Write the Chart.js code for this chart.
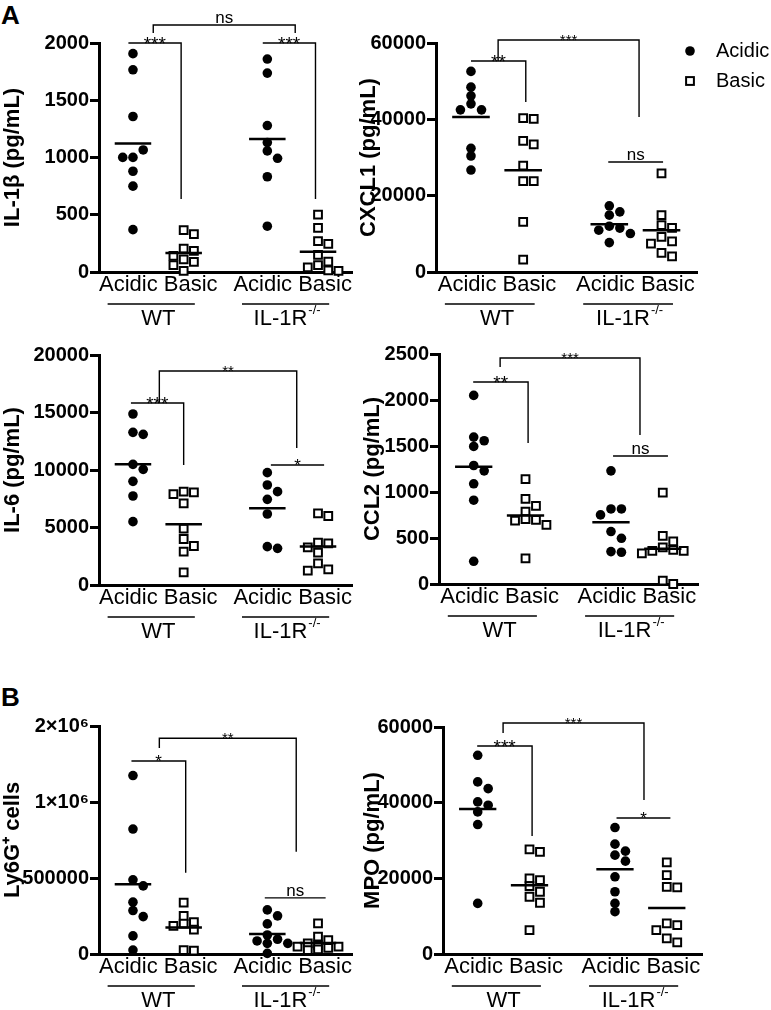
<!DOCTYPE html>
<html>
<head>
<meta charset="utf-8">
<script src="https://cdn.jsdelivr.net/npm/chart.js@4.4.1/dist/chart.umd.min.js"></script>
<style>
  body { margin: 0; background: #fff; width: 771px; height: 1010px; position: relative; overflow: hidden;
         font-family: "Liberation Sans", Arial, sans-serif; }
  canvas { position: absolute; }
  .tag { position: absolute; font-weight: bold; font-size: 26px; line-height: 26px; }
</style>
</head>
<body>
<div class="tag" style="left:1px;top:2px">A</div>
<div class="tag" style="left:1px;top:684px">B</div>
<canvas id="il1b" width="360" height="335" style="left:0;top:0"></canvas>
<canvas id="cxcl1" width="415" height="335" style="left:356px;top:0"></canvas>
<canvas id="il6" width="360" height="310" style="left:0;top:335px"></canvas>
<canvas id="ccl2" width="411" height="310" style="left:360px;top:335px"></canvas>
<canvas id="ly6g" width="360" height="365" style="left:0;top:645px"></canvas>
<canvas id="mpo" width="411" height="365" style="left:360px;top:645px"></canvas>
<script>
const FONT = '"Liberation Sans", Arial, sans-serif';

// groups: acidic / basic lavage, WT and IL-1R knockout mice
const categories = ['Acidic', 'Basic'];
const strains = ['WT', 'IL-1R'];
const knockoutMark = '-/-';
const groupX = [1, 2, 3.65, 4.65];
const pairX = [1.5, 4.15];

// IL-1b (pg/mL)
const il1bTicks = [0, 500, 1000, 1500, 2000];
const il1bWtAcidic = [1907, 1766, 1358, 1001, 1066, 1001, 880, 750, 370];
const il1bWtBasic = [365, 330, 204, 184, 140, 110, 88, 60, 10];
const il1bKoAcidic = [1860, 1737, 1279, 1130, 1057, 993, 832, 400];
const il1bKoBasic = [502, 385, 270, 245, 150, 90, 60, 40, 15, 10];

// CXCL1 (pg/mL)
const cxcl1Ticks = [0, 20000, 40000, 60000];
const cxcl1WtAcidic = [52555, 48438, 46160, 44058, 42482, 42482, 32408, 30394, 26715];
const cxcl1WtBasic = [40292, 40117, 34336, 33460, 27854, 23825, 23825, 13139, 3241];
const cxcl1KoAcidic = [17343, 15766, 14891, 12000, 11500, 10949, 10073, 7708];
const cxcl1KoBasic = [25839, 14891, 12263, 11562, 9197, 8000, 7445, 4993, 4117];

// IL-6 (pg/mL)
const il6Ticks = [0, 5000, 10000, 15000, 20000];
const il6WtAcidic = [14870, 13275, 13101, 10493, 10058, 9014, 7739, 5507];
const il6WtBasic = [8116, 8058, 7900, 7101, 4899, 4000, 3391, 2899, 1101];
const il6KoAcidic = [9768, 8696, 8116, 7449, 6174, 3333, 3188];
const il6KoBasic = [6232, 6000, 3681, 3623, 3275, 2812, 1884, 1362, 1246];

// CCL2 (pg/mL)
const ccl2Ticks = [0, 500, 1000, 1500, 2000, 2500];
const ccl2WtAcidic = [2050, 1597, 1557, 1495, 1288, 1230, 1089, 911, 247];
const ccl2WtBasic = [1139, 925, 849, 787, 704, 697, 689, 642, 279];
const ccl2KoAcidic = [1230, 816, 816, 751, 570, 497, 352, 345];
const ccl2KoBasic = [994, 522, 464, 399, 370, 359, 359, 334, 36, 0];

// Ly6G+ cells (axis compressed above 1x10^6)
const ly6gTicks = [0, 500000, 1000000, 2000000];
const ly6gWtAcidic = [1348000, 822000, 488000, 448000, 341000, 286000, 246000, 119000, 26000];
const ly6gWtBasic = [338000, 250000, 210000, 200000, 185000, 160000, 25000, 22000];
const ly6gKoAcidic = [290000, 251000, 198000, 125000, 97000, 86000, 70000, 70000, 4000];
const ly6gKoBasic = [202000, 114000, 92000, 70000, 59000, 48000, 48000, 40000, 31000, 26000];

// MPO (pg/mL)
const mpoTicks = [0, 20000, 40000, 60000];
const mpoWtAcidic = [52522, 45484, 43724, 40205, 39326, 37566, 34223, 13372];
const mpoWtBasic = [27625, 27009, 19971, 19531, 17947, 16452, 15132, 13548, 6334];
const mpoKoAcidic = [33431, 29032, 27185, 26129, 24545, 20411, 16452, 13372, 11173];
const mpoKoBasic = [24194, 20850, 17771, 17595, 8094, 7654, 6334, 4135, 3079];

const AXIS_BREAK = 1000000;
function foldValue(v) {
  return v <= AXIS_BREAK ? v : AXIS_BREAK + (v - AXIS_BREAK) / 2;
}

class SegmentedScale extends Chart.LinearScale {
  static id = 'segmented';
  static defaults = {};
  getPixelForValue(v) {
    return this.getPixelForDecimal(foldValue(v) / foldValue(this.max));
  }
  getValueForPixel(p) {
    const u = this.getDecimalForPixel(p) * foldValue(this.max);
    return u <= AXIS_BREAK ? u : AXIS_BREAK + (u - AXIS_BREAK) * 2;
  }
}
Chart.register(SegmentedScale);

// spread points sideways when they would overlap (at most two slots each side)
const SLOT_PX = 10.5, MIN_GAP = 7.5, X_PX = 52;
function swarm(values, center, toPx) {
  const placed = [];
  return values.map(v => {
    const py = toPx(v);
    let best = 0, bestGap = -1;
    for (let k = 0; k < 5; k++) {
      const slot = k === 0 ? 0 : (k % 2 ? (k + 1) / 2 : -k / 2);
      const px = slot * SLOT_PX;
      const gap = placed.reduce((g, p) => Math.min(g, Math.hypot(p.px - px, p.py - py)), Infinity);
      if (gap >= MIN_GAP) { best = px; break; }
      if (gap > bestGap + 2) { bestGap = gap; best = px; }
    }
    placed.push({ px: best, py });
    return { x: center + best / X_PX, y: v };
  });
}

const marks = {
  id: 'marks',
  afterDatasetsDraw(chart, args, opts) {
    const { ctx, chartArea, scales: { x, y } } = chart;
    ctx.save();
    ctx.strokeStyle = '#000';
    ctx.fillStyle = '#000';

    // group means
    ctx.lineWidth = 2.5;
    chart.data.datasets.forEach(ds => {
      const m = ds.data.reduce((s, p) => s + p.y, 0) / ds.data.length;
      const py = y.getPixelForValue(m);
      ctx.beginPath();
      ctx.moveTo(x.getPixelForValue(ds.center - 0.36), py);
      ctx.lineTo(x.getPixelForValue(ds.center + 0.36), py);
      ctx.stroke();
    });

    // significance brackets
    ctx.lineWidth = 1.4;
    ctx.textAlign = 'center';
    ctx.textBaseline = 'alphabetic';
    opts.brackets.forEach(b => {
      const x1 = x.getPixelForValue(b.x1), x2 = x.getPixelForValue(b.x2);
      const yy = y.getPixelForValue(b.y);
      ctx.beginPath();
      ctx.moveTo(x1, b.y1 == null ? yy : y.getPixelForValue(b.y1));
      ctx.lineTo(x1, yy);
      ctx.lineTo(x2, yy);
      ctx.lineTo(x2, b.y2 == null ? yy : y.getPixelForValue(b.y2));
      ctx.stroke();
      ctx.font = b.size + 'px ' + FONT;
      const ty = b.text === 'ns' ? yy - 2 : yy + b.size * 0.35;
      ctx.fillText(b.text, (x1 + x2) / 2, ty);
    });

    // strain underline + name
    const base = chartArea.bottom;
    ctx.lineWidth = 1.5;
    pairX.forEach((cx, i) => {
      ctx.beginPath();
      ctx.moveTo(x.getPixelForValue(cx - 1.0), base + 32);
      ctx.lineTo(x.getPixelForValue(cx + 0.72), base + 32);
      ctx.stroke();
      const mid = x.getPixelForValue(cx - (i ? 0.12 : 0));
      ctx.textBaseline = 'middle';
      ctx.textAlign = 'left';
      ctx.font = '22px ' + FONT;
      const w = ctx.measureText(strains[i]).width;
      let sw = 0;
      if (i) {
        ctx.font = '13px ' + FONT;
        sw = ctx.measureText(knockoutMark).width;
      }
      const start = mid - (w + sw) / 2;
      ctx.font = '22px ' + FONT;
      ctx.fillText(strains[i], start, base + 47);
      if (i) {
        ctx.font = '13px ' + FONT;
        ctx.fillText(knockoutMark, start + w + 1, base + 38);
      }
    });

    if (opts.legend) {
      const lx = 334;
      ctx.beginPath();
      ctx.arc(lx, 51, 4.8, 0, Math.PI * 2);
      ctx.fill();
      ctx.lineWidth = 2;
      ctx.fillStyle = '#fff';
      ctx.fillRect(lx - 3.9, 81 - 3.9, 7.8, 7.8);
      ctx.strokeRect(lx - 3.9, 81 - 3.9, 7.8, 7.8);
      ctx.fillStyle = '#000';
      ctx.font = '20px ' + FONT;
      ctx.textAlign = 'left';
      ctx.textBaseline = 'middle';
      ctx.fillText(categories[0], 360, 51);
      ctx.fillText(categories[1], 360, 81);
    }
    ctx.restore();
  }
};

function tickText(v) {
  if (v >= AXIS_BREAK && v % AXIS_BREAK === 0) return (v / AXIS_BREAK) + '×10⁶';
  return String(v);
}

function makePanel(p) {
  const canvas = document.getElementById(p.id);
  const W = canvas.width, H = canvas.height;
  const plotH = p.area.bottom - p.area.top;
  const yMax = p.ticks[p.ticks.length - 1];
  const fold = p.segmented ? foldValue : v => v;
  const toPx = v => fold(v) / fold(yMax) * plotH;

  const datasets = p.series.map((vals, i) => {
    const acidic = i % 2 === 0;
    return {
      label: categories[i % 2],
      center: groupX[i],
      data: swarm(vals, groupX[i], toPx),
      pointStyle: acidic ? 'circle' : 'rect',
      pointRadius: acidic ? 4.8 : 5.5,
      pointBackgroundColor: acidic ? '#000' : '#fff',
      pointBorderColor: '#000',
      pointBorderWidth: acidic ? 0 : 2,
      clip: false
    };
  });

  return new Chart(canvas, {
    type: 'scatter',
    data: { datasets },
    options: {
      responsive: false,
      animation: false,
      events: [],
      layout: { padding: { top: p.area.top, right: W - p.area.right, bottom: 0, left: 0 } },
      plugins: {
        legend: { display: false },
        tooltip: { enabled: false },
        marks: { brackets: p.brackets, legend: !!p.legend }
      },
      scales: {
        x: {
          type: 'linear',
          min: 0.33,
          max: 5.33,
          afterBuildTicks: s => { s.ticks = pairX.map(v => ({ value: v })); },
          afterFit: s => { s.height = H - p.area.bottom; s.paddingLeft = 0; s.paddingRight = 0; },
          ticks: {
            autoSkip: false,
            maxRotation: 0,
            padding: 0,
            color: '#000',
            font: { family: FONT, size: 22 },
            callback: () => categories.join(' ')
          },
          grid: { display: false, drawTicks: false },
          border: { color: '#000', width: 3 }
        },
        y: {
          type: p.segmented ? 'segmented' : 'linear',
          min: 0,
          max: yMax,
          afterBuildTicks: s => { s.ticks = p.ticks.map(v => ({ value: v })); },
          afterFit: s => { s.width = p.area.left; s.paddingTop = 0; s.paddingBottom = 0; },
          ticks: {
            padding: 1,
            color: '#000',
            font: { family: FONT, size: 20, weight: 'bold' },
            callback: v => tickText(v)
          },
          grid: { drawOnChartArea: false, tickLength: 9, tickWidth: 3, tickColor: '#000', color: '#000' },
          border: { color: '#000', width: 3 },
          title: {
            display: true,
            text: p.title,
            color: '#000',
            padding: 0,
            font: { family: FONT, size: 22, weight: 'bold' }
          }
        }
      }
    },
    plugins: [marks]
  });
}

const panels = [
  {
    id: 'il1b', title: 'IL-1β (pg/mL)', ticks: il1bTicks,
    series: [il1bWtAcidic, il1bWtBasic, il1bKoAcidic, il1bKoBasic],
    area: { left: 99, top: 43, right: 360, bottom: 272 },
    brackets: [
      { x1: 0.91, x2: 1.95, y: 2000, y2: 637, text: '***', size: 19 },
      { x1: 3.56, x2: 4.6, y: 2000, y2: 637, text: '***', size: 19 },
      { x1: 1.4, x2: 4.2, y: 2157, y1: 2087, y2: 2087, text: 'ns', size: 17 }
    ]
  },
  {
    id: 'cxcl1', title: 'CXCL1 (pg/mL)', ticks: cxcl1Ticks, legend: true,
    series: [cxcl1WtAcidic, cxcl1WtBasic, cxcl1KoAcidic, cxcl1KoBasic],
    area: { left: 80, top: 43, right: 341, bottom: 272 },
    brackets: [
      { x1: 1.0, x2: 2.05, y: 55284, y2: 44541, text: '**', size: 19 },
      { x1: 1.52, x2: 4.22, y: 60786, y1: 55284, y2: 40611, text: '***', size: 15 },
      { x1: 3.63, x2: 4.68, y: 28821, text: 'ns', size: 17 }
    ]
  },
  {
    id: 'il6', title: 'IL-6 (pg/mL)', ticks: il6Ticks,
    series: [il6WtAcidic, il6WtBasic, il6KoAcidic, il6KoBasic],
    area: { left: 99, top: 20, right: 359, bottom: 250 },
    brackets: [
      { x1: 0.96, x2: 2.0, y: 15826, y2: 10435, text: '***', size: 19 },
      { x1: 1.52, x2: 4.23, y: 18609, y1: 15826, y2: 11913, text: '**', size: 15 },
      { x1: 3.72, x2: 4.77, y: 10435, text: '*', size: 17 }
    ]
  },
  {
    id: 'ccl2', title: 'CCL2 (pg/mL)', ticks: ccl2Ticks,
    series: [ccl2WtAcidic, ccl2WtBasic, ccl2KoAcidic, ccl2KoBasic],
    area: { left: 79, top: 19, right: 338, bottom: 249 },
    brackets: [
      { x1: 0.99, x2: 2.05, y: 2196, y2: 1533, text: '**', size: 19 },
      { x1: 1.51, x2: 4.21, y: 2457, y1: 2359, y2: 1620, text: '***', size: 15 },
      { x1: 3.69, x2: 4.75, y: 1391, text: 'ns', size: 17 }
    ]
  },
  {
    id: 'ly6g', title: 'Ly6G⁺ cells', ticks: ly6gTicks, segmented: true,
    series: [ly6gWtAcidic, ly6gWtBasic, ly6gKoAcidic, ly6gKoBasic],
    area: { left: 99, top: 81, right: 360, bottom: 309 },
    brackets: [
      { x1: 0.97, x2: 2.04, y: 1539000, y2: 534000, text: '*', size: 17 },
      { x1: 1.52, x2: 4.22, y: 1839000, y1: 1709000, y2: 672000, text: '**', size: 15 },
      { x1: 3.6, x2: 4.8, y: 369000, text: 'ns', size: 17 }
    ]
  },
  {
    id: 'mpo', title: 'MPO (pg/mL)', ticks: mpoTicks,
    series: [mpoWtAcidic, mpoWtBasic, mpoKoAcidic, mpoKoBasic],
    area: { left: 83, top: 82, right: 342, bottom: 309 },
    brackets: [
      { x1: 0.99, x2: 2.05, y: 54978, y2: 31189, text: '***', size: 19 },
      { x1: 1.49, x2: 4.21, y: 61057, y1: 58414, y2: 40705, text: '***', size: 15 },
      { x1: 3.68, x2: 4.72, y: 35947, text: '*', size: 17 }
    ]
  }
];

panels.forEach(makePanel);
</script>
</body>
</html>
